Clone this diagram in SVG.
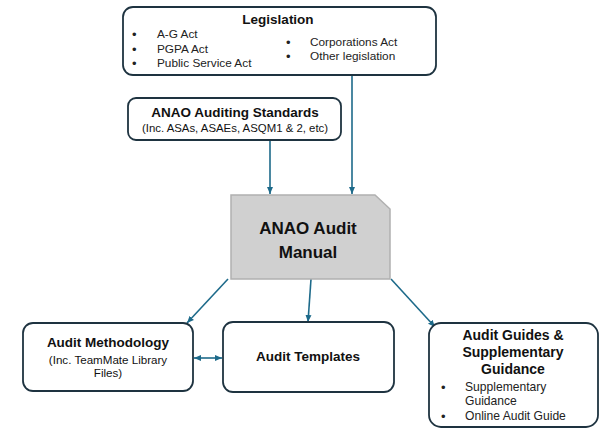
<svg xmlns="http://www.w3.org/2000/svg" width="611" height="435" viewBox="0 0 611 435">
<style>
.box{fill:#fff;stroke:#1e3340;stroke-width:1.8}
.t{font-family:"Liberation Sans",Arial,sans-serif;fill:#111;text-anchor:middle}
.b{font-weight:bold}
.s{font-family:"Liberation Sans",Arial,sans-serif;fill:#222}
.d{font-size:13px}
.c{stroke:#1d6a8a;stroke-width:1.6;fill:none}
</style>
<defs>
<marker id="ah" markerWidth="8" markerHeight="8" refX="7" refY="4" orient="auto" markerUnits="userSpaceOnUse">
<path d="M0,1 L7,4 L0,7 Z" fill="#1d6a8a"/>
</marker>
<marker id="ahs" markerWidth="8" markerHeight="8" refX="0" refY="4" orient="auto" markerUnits="userSpaceOnUse">
<path d="M7,1 L0,4 L7,7 Z" fill="#1d6a8a"/>
</marker>
</defs>
<rect width="611" height="435" fill="#fff"/>
<g id="connectors">
<line class="c" x1="352" y1="75" x2="352" y2="194" marker-end="url(#ah)"/>
<line class="c" x1="270" y1="140" x2="270" y2="194" marker-end="url(#ah)"/>
<line class="c" x1="228" y1="279" x2="187" y2="323" marker-end="url(#ah)"/>
<line class="c" x1="311" y1="279" x2="308" y2="322" marker-end="url(#ah)"/>
<line class="c" x1="391" y1="279" x2="435" y2="327" marker-end="url(#ah)"/>
<line class="c" x1="194" y1="358" x2="222" y2="358" marker-start="url(#ahs)" marker-end="url(#ah)"/>
</g>
<g id="legislation">
<rect class="box" x="123" y="7" width="313" height="68" rx="10"/>
<text class="t b" x="278" y="24" font-size="13.5">Legislation</text>
<g class="s" font-size="11.8">
<text class="d" x="132" y="39">•</text><text x="157" y="38">A-G Act</text>
<text class="d" x="132" y="54">•</text><text x="157" y="53">PGPA Act</text>
<text class="d" x="132" y="68">•</text><text x="157" y="67">Public Service Act</text>
<text class="d" x="286" y="47">•</text><text x="310" y="46">Corporations Act</text>
<text class="d" x="286" y="61">•</text><text x="310" y="60">Other legislation</text>
</g>
</g>
<g id="standards">
<rect class="box" x="128" y="98" width="213" height="42" rx="8"/>
<text class="t b" x="235" y="117" font-size="13.5">ANAO Auditing Standards</text>
<text class="t" x="235" y="132" font-size="11.4" fill="#222">(Inc. ASAs, ASAEs, ASQM1 &amp; 2, etc)</text>
</g>
<g id="manual">
<path d="M231,195 H375 L390,209 V279 H231 Z" fill="#d0d0d0" stroke="#b0b0b0" stroke-width="1.5"/>
<text class="t b" x="308" y="234" font-size="17">ANAO Audit</text>
<text class="t b" x="308" y="258" font-size="17">Manual</text>
</g>
<g id="methodology">
<rect class="box" x="23" y="323" width="170" height="68" rx="10"/>
<text class="t b" x="108" y="347" font-size="13.5">Audit Methodology</text>
<text class="t" x="108" y="364" font-size="11.6" fill="#222">(Inc. TeamMate Library</text>
<text class="t" x="108" y="377" font-size="11.6" fill="#222">Files)</text>
</g>
<g id="templates">
<rect class="box" x="223" y="322" width="171" height="70" rx="10"/>
<text class="t b" x="308" y="361" font-size="13.5">Audit Templates</text>
</g>
<g id="guides">
<rect class="box" x="429" y="323" width="169" height="104" rx="12"/>
<text class="t b" x="513" y="340" font-size="14">Audit Guides &amp;</text>
<text class="t b" x="513" y="357" font-size="14">Supplementary</text>
<text class="t b" x="513" y="374" font-size="14">Guidance</text>
<g class="s" font-size="12.1">
<text class="d" x="441" y="392">•</text><text x="465" y="391">Supplementary</text>
<text x="465" y="405">Guidance</text>
<text class="d" x="441" y="421">•</text><text x="465" y="420">Online Audit Guide</text>
</g>
</g>
</svg>
